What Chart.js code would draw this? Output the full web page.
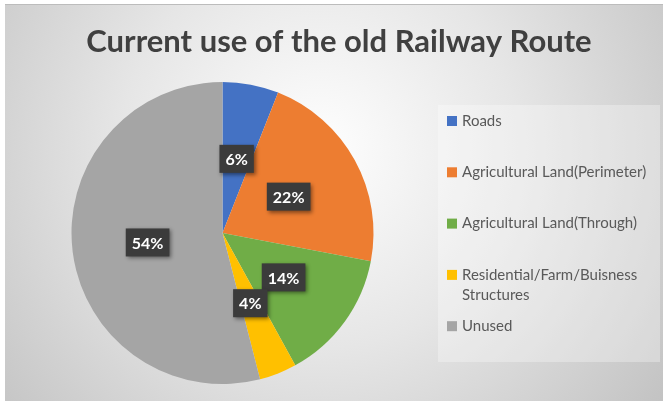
<!DOCTYPE html>
<html>
<head>
<meta charset="utf-8">
<script src="https://cdn.jsdelivr.net/npm/chart.js@4"></script>
<style>
  html, body { margin: 0; padding: 0; background: #fff; }
  #wrap { position: relative; width: 663px; height: 405px; }
</style>
</head>
<body>
<div id="wrap"><canvas id="railChart" width="663" height="405"></canvas></div>
<script>
const chartTitle = 'Current use of the old Railway Route';
const categories = ['Roads', 'Agricultural Land(Perimeter)', 'Agricultural Land(Through)', 'Residential/Farm/Buisness Structures', 'Unused'];
const shares = [6, 22, 14, 4, 54];
const sliceColors = ['#4472C4', '#ED7D31', '#70AD47', '#FFC000', '#A5A5A5'];

// background panel + title
const backdrop = {
  id: 'backdrop',
  beforeDraw(chart) {
    const ctx = chart.ctx;
    ctx.save();
    ctx.fillStyle = '#fff';
    ctx.fillRect(0, 0, chart.width, chart.height);
    const g = ctx.createRadialGradient(320, 150, 10, 320, 150, 430);
    g.addColorStop(0, '#fdfdfd');
    g.addColorStop(0.45, '#e6e6e6');
    g.addColorStop(1, '#c2c2c2');
    ctx.fillStyle = g;
    ctx.fillRect(5, 4, 658, 397);
    ctx.fillStyle = '#bcbcbc';
    ctx.fillRect(5, 4, 658, 1);

    ctx.fillStyle = '#404040';
    ctx.font = 'bold 31px Lato';
    ctx.textAlign = 'center';
    ctx.textBaseline = 'alphabetic';
    ctx.fillText(chartTitle, 339, 52);
    ctx.restore();
  }
};

// dark label boxes on the slices
const sliceLabels = {
  id: 'sliceLabels',
  afterDatasetsDraw(chart) {
    const ctx = chart.ctx;
    const meta = chart.getDatasetMeta(0);
    ctx.save();
    ctx.font = 'bold 16px Lato';
    ctx.textAlign = 'center';
    ctx.textBaseline = 'middle';
    meta.data.forEach((arc, i) => {
      const p = arc.tooltipPosition();
      const txt = shares[i] + '%';
      const w = ctx.measureText(txt).width + 12;
      const h = 28;
      ctx.save();
      ctx.shadowColor = 'rgba(0,0,0,0.45)';
      ctx.shadowBlur = 4;
      ctx.shadowOffsetX = 2;
      ctx.shadowOffsetY = 2;
      ctx.fillStyle = '#3b3b3b';
      ctx.fillRect(p.x - w / 2, p.y - h / 2, w, h);
      ctx.restore();
      ctx.fillStyle = '#fff';
      ctx.fillText(txt, p.x, p.y + 1);
    });
    ctx.restore();
  }
};

// legend panel on the right
const sideLegend = {
  id: 'sideLegend',
  afterDraw(chart) {
    const ctx = chart.ctx;
    ctx.save();
    ctx.fillStyle = 'rgba(255,255,255,0.3)';
    ctx.fillRect(438, 105, 222, 257);
    ctx.font = '15px Lato';
    ctx.textBaseline = 'middle';
    let y = 121;
    chart.data.labels.forEach((lab, i) => {
      ctx.fillStyle = sliceColors[i];
      ctx.fillRect(447, y - 5, 10, 10);
      ctx.fillStyle = '#595959';
      // wrap long labels
      const words = lab.split(' ');
      let line = '', ly = y;
      words.forEach(wd => {
        const test = line ? line + ' ' + wd : wd;
        if (ctx.measureText(test).width > 195 && line) {
          ctx.fillText(line, 462, ly);
          line = wd;
          ly += 20;
        } else {
          line = test;
        }
      });
      ctx.fillText(line, 462, ly);
      y += 51.3;
    });
    ctx.restore();
  }
};

new Chart(document.getElementById('railChart'), {
  type: 'pie',
  data: {
    labels: categories,
    datasets: [{
      data: shares,
      backgroundColor: sliceColors,
      borderWidth: 0
    }]
  },
  options: {
    responsive: false,
    animation: false,
    layout: { padding: { left: 71.5, top: 82, right: 289.5, bottom: 21 } },
    plugins: {
      legend: { display: false },
      title: { display: false },
      tooltip: { enabled: false }
    }
  },
  plugins: [backdrop, sliceLabels, sideLegend]
});
</script>
</body>
</html>
